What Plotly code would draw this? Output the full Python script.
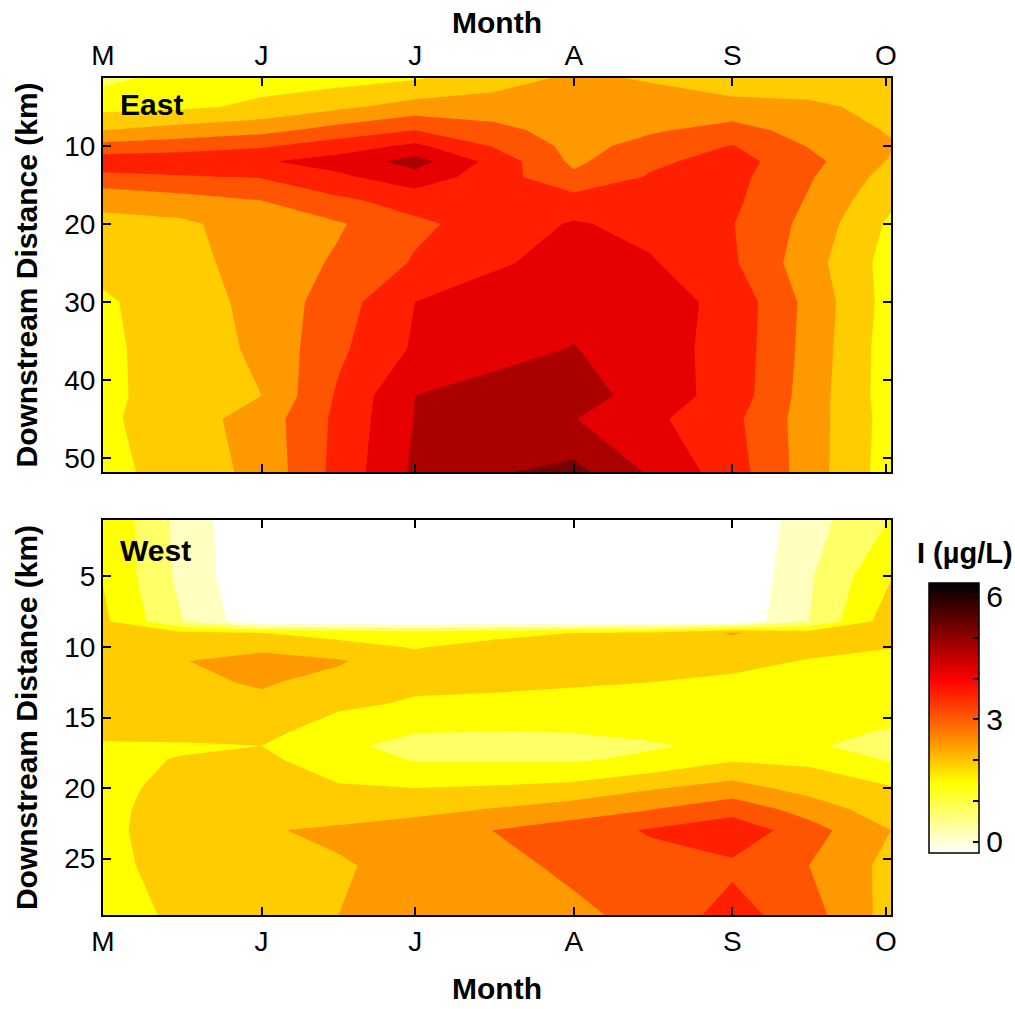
import plotly.graph_objects as go

# ---------------- data ----------------
month_tickvals = [0, 31, 61, 92, 123, 153]          # days since 1 May
month_labels = ["M", "J", "J", "A", "S", "O"]
sample_days = [0, 15, 31, 46, 61, 76, 92, 107, 123, 138, 154]

east_dist = [1.3, 5, 8, 10, 12, 14, 17, 20, 25, 30, 36, 42, 45, 51.8]
east_I = [
    [1.35, 1.70, 1.80, 1.80, 1.95, 2.25, 2.60, 2.45, 2.05, 2.20, 2.20],
    [1.85, 1.90, 2.10, 2.40, 2.70, 2.75, 2.75, 2.75, 2.75, 2.60, 2.35],
    [2.50, 2.70, 2.85, 3.20, 3.50, 3.15, 2.80, 2.95, 3.15, 2.85, 2.45],
    [3.15, 3.25, 3.43, 3.75, 4.10, 3.48, 2.85, 3.15, 3.52, 2.97, 2.55],
    [3.80, 3.85, 3.95, 4.20, 4.70, 3.85, 2.90, 3.40, 3.70, 3.15, 2.45],
    [3.37, 3.45, 3.53, 3.90, 4.30, 3.75, 3.10, 3.55, 3.65, 3.05, 2.30],
    [2.60, 2.80, 3.00, 3.40, 3.70, 3.75, 3.70, 3.75, 3.60, 2.95, 2.10],
    [2.40, 2.40, 2.75, 2.95, 3.40, 3.70, 4.05, 3.85, 3.52, 2.85, 1.90],
    [2.15, 2.35, 2.69, 3.07, 3.55, 3.92, 4.20, 4.05, 3.57, 2.71, 1.79],
    [1.93, 2.26, 2.65, 3.27, 4.00, 4.25, 4.35, 4.25, 3.83, 2.85, 1.79],
    [1.90, 2.22, 2.60, 3.40, 4.07, 4.30, 4.52, 4.22, 3.81, 2.82, 1.74],
    [1.90, 2.20, 2.50, 3.57, 4.50, 4.70, 4.75, 4.27, 3.79, 2.77, 1.74],
    [1.91, 2.26, 2.72, 3.62, 4.52, 4.75, 4.52, 4.11, 3.63, 2.75, 1.78],
    [1.85, 2.20, 2.65, 3.67, 4.60, 4.94, 5.15, 4.43, 3.73, 2.75, 1.74],
]

west_dist = [1, 5, 8.2, 9, 10, 11, 12.5, 14, 16, 17, 18, 20, 21.5, 23, 25.5, 29]
west_I = [
    [1.95, 0.85, 0.00, 0.00, 0.00, 0.00, 0.00, 0.00, 0.00, 0.79, 1.52],
    [1.97, 0.90, 0.00, 0.00, 0.00, 0.00, 0.00, 0.00, 0.00, 0.94, 1.97],
    [2.10, 1.05, 0.10, 0.10, 0.10, 0.10, 0.10, 0.10, 0.10, 1.00, 2.30],
    [2.20, 2.10, 2.00, 1.85, 1.70, 1.85, 2.00, 2.05, 2.55, 2.20, 2.30],
    [2.30, 2.30, 2.40, 2.15, 1.97, 2.15, 2.20, 2.20, 2.25, 2.15, 2.03],
    [2.35, 2.48, 2.65, 2.55, 2.15, 2.20, 2.25, 2.20, 2.15, 1.97, 1.80],
    [2.35, 2.40, 2.55, 2.35, 2.10, 2.10, 2.05, 2.00, 1.90, 1.75, 1.70],
    [2.25, 2.30, 2.40, 2.10, 1.95, 1.90, 1.85, 1.80, 1.75, 1.70, 1.70],
    [2.10, 2.15, 2.15, 1.75, 1.52, 1.50, 1.52, 1.60, 1.65, 1.60, 1.47],
    [1.95, 1.95, 2.00, 1.60, 1.35, 1.30, 1.30, 1.45, 1.60, 1.55, 1.35],
    [1.90, 2.02, 2.10, 1.75, 1.47, 1.47, 1.45, 1.60, 1.95, 1.90, 1.45],
    [1.85, 2.15, 2.30, 2.05, 2.00, 2.05, 2.15, 2.45, 2.70, 2.30, 2.05],
    [1.85, 2.25, 2.35, 2.20, 2.35, 2.52, 2.75, 2.98, 3.30, 2.80, 2.20],
    [1.85, 2.30, 2.45, 2.60, 2.75, 3.00, 3.25, 3.55, 3.85, 3.20, 2.50],
    [1.85, 2.20, 2.35, 2.45, 2.65, 2.85, 3.10, 3.30, 3.40, 3.00, 2.35],
    [1.75, 2.10, 2.30, 2.50, 2.70, 2.85, 2.90, 3.15, 3.70, 3.20, 2.30],
]

east_ticks = [10, 20, 30, 40, 50]
west_ticks = [5, 10, 15, 20, 25]
cbar_tickvals = [0, 1, 2, 3, 4, 5, 6]
cbar_ticktext = ["0", "", "", "3", "", "", "6"]

# contour levels 0.5 .. 5.0, one fill colour per band
band_colors = ["#FFFFFF", "#FFFFBF", "#FFFF66", "#FFFF00", "#FFCC00", "#FF9900",
               "#FF5500", "#FF2000", "#E60000", "#AA0000", "#780000"]
cbar_scale = [[0.0, "#FFFFFF"], [0.26, "#FFFF00"], [0.44, "#FF8000"],
              [0.64, "#FF0000"], [0.82, "#800000"], [1.0, "#000000"]]

# ---------------- styling ----------------
FONT = "Liberation Sans, Arial, sans-serif"
nb = len(band_colors) - 1
step_scale = []
for j, c in enumerate(band_colors):
    lo = max(0.0, (j - 0.5) / nb)
    hi = min(1.0, (j + 0.5) / nb)
    step_scale.append([lo, c])
    step_scale.append([hi, c])

contour_common = dict(
    colorscale=step_scale,
    showscale=False,
    contours=dict(start=0.5, end=5.0, size=0.5, coloring="fill", showlines=False),
    line=dict(width=0, smoothing=0),
    hoverinfo="skip",
)

fig = go.Figure()
fig.add_trace(go.Contour(x=sample_days, y=east_dist, z=east_I,
                         xaxis="x", yaxis="y", **contour_common))
fig.add_trace(go.Contour(x=sample_days, y=west_dist, z=west_I,
                         xaxis="x2", yaxis="y2", **contour_common))

# colour bar (continuous gradient)
fig.add_trace(go.Scatter(
    x=[None], y=[None], mode="markers", xaxis="x2", yaxis="y2",
    showlegend=False, hoverinfo="skip",
    marker=dict(color=[0], cmin=-0.27, cmax=6.34, colorscale=cbar_scale,
                showscale=True,
                colorbar=dict(
                    x=1.048, xanchor="left", y=0.2354, yanchor="middle",
                    len=0.3226, lenmode="fraction", thickness=50,
                    xpad=0, ypad=0,
                    outlinewidth=1.5, outlinecolor="black",
                    tickvals=cbar_tickvals, ticktext=cbar_ticktext,
                    ticks="inside", ticklen=6, tickwidth=2, tickcolor="black",
                    tickfont=dict(family=FONT, size=30, color="black"),
                )),
))

xax = dict(range=[0, 154], tickvals=month_tickvals, ticktext=month_labels,
           ticks="inside", ticklen=8, tickwidth=2, tickcolor="black",
           showline=True, linewidth=2, linecolor="black", mirror="ticks",
           showgrid=False, zeroline=False,
           tickfont=dict(family=FONT, size=28, color="black"))
yax = dict(ticks="inside", ticklen=8, tickwidth=2, tickcolor="black",
           showline=True, linewidth=2, linecolor="black", mirror="ticks",
           showgrid=False, zeroline=False,
           tickfont=dict(family=FONT, size=28, color="black"))

ytitle = dict(text="<b>Downstream Distance (km)</b>",
              font=dict(family=FONT, size=30, color="black"), standoff=18)

fig.update_layout(
    width=1015, height=1009,
    margin=dict(l=103, r=124, t=78, b=94, autoexpand=False),
    paper_bgcolor="white", plot_bgcolor="white",
    showlegend=False,
    xaxis=dict(xax, anchor="y", side="top"),
    yaxis=dict(yax, domain=[0.5293, 1.0], anchor="x", range=[51.8, 1.3],
               tickvals=east_ticks, title=ytitle),
    xaxis2=dict(xax, anchor="y2", side="bottom",
                title=dict(text="<b>Month</b>", standoff=22,
                           font=dict(family=FONT, size=30, color="black"))),
    yaxis2=dict(yax, domain=[0.0, 0.4719], anchor="x2", range=[29, 1],
                tickvals=west_ticks, title=ytitle),
    annotations=[
        dict(text="<b>Month</b>", xref="paper", yref="paper", x=0.5, y=1.0669,
             xanchor="center", yanchor="middle", showarrow=False,
             font=dict(family=FONT, size=30, color="black")),
        dict(text="<b>East</b>", xref="x domain", yref="y domain", x=0.019, y=0.934,
             xanchor="left", yanchor="middle", showarrow=False,
             font=dict(family=FONT, size=30, color="black")),
        dict(text="<b>West</b>", xref="x2 domain", yref="y2 domain", x=0.019, y=0.922,
             xanchor="left", yanchor="middle", showarrow=False,
             font=dict(family=FONT, size=30, color="black")),
        dict(text="<b>I (µg/L)</b>", xref="paper", yref="paper", x=1.094, y=0.4325,
             xanchor="center", yanchor="middle", showarrow=False,
             font=dict(family=FONT, size=29, color="black")),
    ],
)

fig.write_html("out.html")
